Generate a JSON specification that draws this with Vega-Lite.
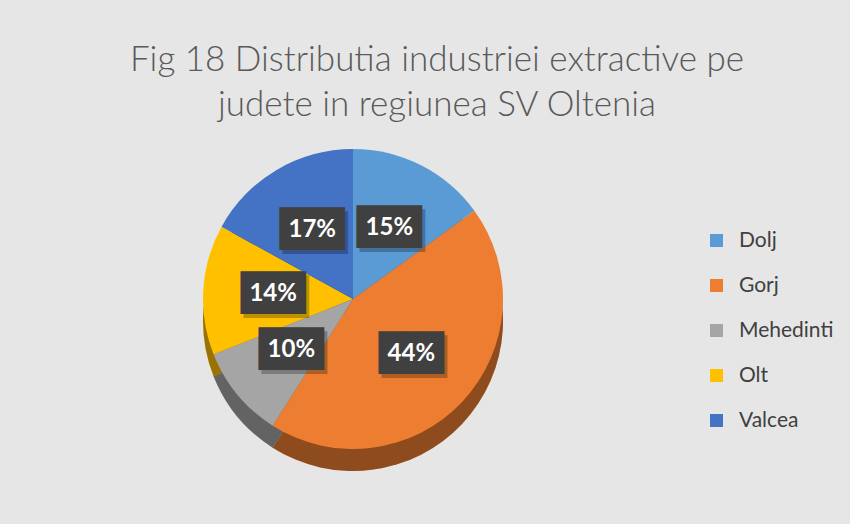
{
  "$schema": "https://vega.github.io/schema/vega-lite/v6.json",
  "width": 850,
  "height": 524,
  "autosize": {"type": "fit", "contains": "padding"},
  "padding": {"left": 0, "top": 43, "right": 144, "bottom": 54},
  "background": "#e6e6e6",
  "config": {"view": {"stroke": null}},
  "title": {
    "text": ["Fig 18 Distributia industriei extractive pe", "judete in regiunea SV Oltenia"],
    "font": "Lato",
    "fontSize": 35,
    "fontWeight": 300,
    "color": "#595959",
    "lineHeight": 45,
    "anchor": "middle",
    "dx": 84,
    "offset": 5
  },
  "data": {
    "values": [
      {"judet": "Dolj", "share": 0.15},
      {"judet": "Gorj", "share": 0.44},
      {"judet": "Mehedinti", "share": 0.10},
      {"judet": "Olt", "share": 0.14},
      {"judet": "Valcea", "share": 0.17}
    ]
  },
  "encoding": {
    "theta": {"field": "share", "type": "quantitative", "stack": true},
    "order": {"field": "judet", "type": "ordinal"},
    "color": {
      "field": "judet", "type": "nominal",
      "scale": {"domain": ["Dolj", "Gorj", "Mehedinti", "Olt", "Valcea"],
                "range": ["#5B9BD5", "#ED7D31", "#A5A5A5", "#FFC000", "#4472C4"]},
      "legend": {
        "orient": "none", "legendX": 706, "legendY": 102, "title": null,
        "symbolType": "square", "symbolSize": 169, "symbolStrokeWidth": 0, "symbolOpacity": 1,
        "labelFont": "Lato", "labelFontSize": 21, "labelColor": "#404040",
        "labelOffset": 12, "rowPadding": 23
      }
    }
  },
  "layer": [
    {
      "mark": {"type": "arc", "outerRadius": 150, "yOffset": 22}
    },
    {
      "mark": {"type": "arc", "outerRadius": 150, "yOffset": 22, "fill": "#000000", "fillOpacity": 0.4}
    },
    {
      "mark": {"type": "arc", "outerRadius": 150}
    },
    {
      "mark": {"type": "text", "radius": 80, "text": "███", "font": "DejaVu Sans Mono", "fontSize": 36,
               "fill": "#000000", "opacity": 0.25, "dx": 3, "dy": 4}
    },
    {
      "mark": {"type": "text", "radius": 80, "text": "███", "font": "DejaVu Sans Mono", "fontSize": 36,
               "fill": "#404040"}
    },
    {
      "mark": {"type": "text", "radius": 80, "font": "Lato", "fontWeight": "bold", "fontSize": 24, "fill": "#ffffff"},
      "encoding": {"text": {"field": "share", "type": "quantitative", "format": ".0%"}}
    }
  ]
}
